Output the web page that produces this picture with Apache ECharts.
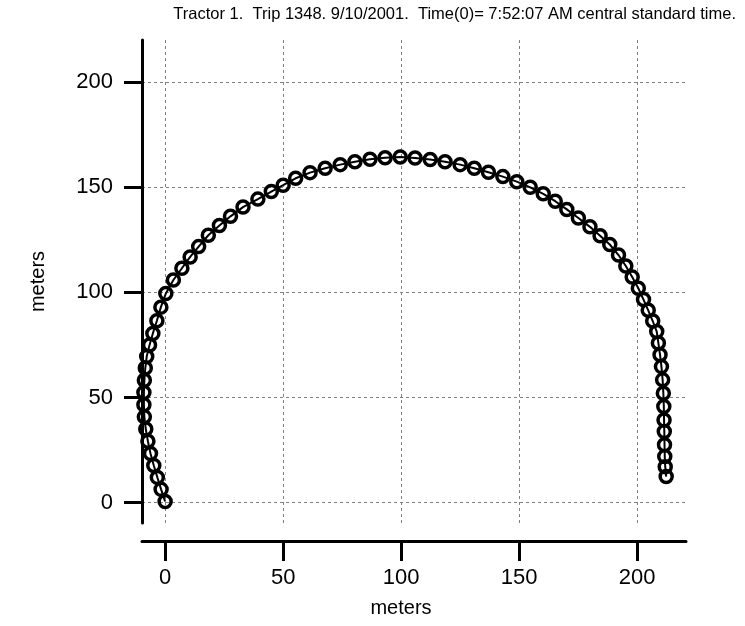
<!DOCTYPE html>
<html>
<head>
<meta charset="utf-8">
<script src="https://cdn.jsdelivr.net/npm/echarts@6/dist/echarts.min.js"></script>
<style>
html,body{margin:0;padding:0;background:#fff;}
#chart{width:745px;height:626px;}
</style>
</head>
<body>
<div id="chart"></div>
<script>
// Tractor path (meters)
var xMeters = [
  0, -1.7, -3.3, -4.8, -6.2, -7.3, -8.2, -8.8, -9, -9, -8.8, -8.4, -7.8, -6.6, -5.2, -3.5, -1.8, 0.3,
  3.5, 7.1, 10.6, 14.2, 18.3, 23.0, 27.7, 33.0, 39.3, 45.0, 50.0,
  55.3, 61.4, 67.8, 74.2, 80.4, 86.8, 93.2, 99.6, 105.9, 112.3, 118.6, 125.0, 131.0, 137.0, 143.1, 149.0,
  154.7, 160.2, 165.3, 170.2, 175.1, 180.0, 184.3, 188.4, 192.1, 195.2, 197.9, 200.5, 202.7, 204.7, 206.6,
  208.3, 209.0, 209.7, 210.3, 210.8, 211.1, 211.3, 211.4, 211.5, 211.6, 211.7, 211.9, 212.3
];
var yMeters = [
  0.5, 6.3, 12, 17.7, 23.4, 29.2, 35, 40.8, 46.6, 52.4, 58.2, 64, 69.5, 75, 80.5, 86.5, 93, 99.5,
  105.9, 111.5, 116.9, 121.8, 127.2, 131.8, 136.2, 140.6, 144.4, 148.0, 151.0,
  154.3, 157.0, 159.1, 160.8, 162.2, 163.4, 164.1, 164.4, 164.0, 163.2, 162.2, 160.8, 159.1, 157.2, 155.1, 152.7,
  150.0, 146.9, 143.4, 139.5, 135.4, 131.2, 127.0, 122.8, 117.8, 112.6, 107.3, 102.0, 96.6, 91.5, 86.4,
  81.4, 75.9, 70.3, 64.7, 58.4, 52.0, 45.7, 39.3, 33.8, 27.5, 21.9, 17.1, 12.4
];
var xTickValues = [0, 50, 100, 150, 200];
var yTickValues = [0, 50, 100, 150, 200];
var titleText = 'Tractor 1.  Trip 1348. 9/10/2001.  Time(0)= 7:52:07 AM central standard time.';
var xName = 'meters';
var yName = 'meters';

var points = xMeters.map(function (x, i) { return [x, yMeters[i]]; });

var FONT = 'Liberation Sans, Arial, sans-serif';
var chart = echarts.init(document.getElementById('chart'), null, {renderer: 'canvas'});
chart.setOption({
  animation: false,
  backgroundColor: '#ffffff',
  title: {
    text: titleText,
    right: 4,
    top: 1,
    textStyle: {fontFamily: FONT, fontSize: 16.5, fontWeight: 'normal', color: '#000'}
  },
  grid: {left: 142, right: 59, top: 40, bottom: 103, containLabel: false},
  xAxis: {
    type: 'value',
    min: -9.8,
    max: 220.7,
    offset: 18,
    name: xName,
    nameLocation: 'middle',
    nameGap: 57,
    nameTextStyle: {fontFamily: FONT, fontSize: 20, color: '#000', padding: [0, 26, 0, 0]},
    axisLine: {show: true, onZero: false, lineStyle: {color: '#000', width: 3}},
    axisTick: {show: true, length: 20, lineStyle: {color: '#000', width: 3}, customValues: xTickValues},
    axisLabel: {fontFamily: FONT, fontSize: 22, color: '#000', margin: 26, customValues: xTickValues},
    splitLine: {show: true, lineStyle: {color: '#808080', width: 1, type: [3, 3]}}
  },
  yAxis: {
    type: 'value',
    min: -9.7,
    max: 220.1,
    name: yName,
    nameLocation: 'middle',
    nameGap: 94,
    nameRotate: 90,
    nameTextStyle: {fontFamily: FONT, fontSize: 20, color: '#000'},
    axisLine: {show: true, onZero: false, lineStyle: {color: '#000', width: 3}},
    axisTick: {show: true, length: 18, lineStyle: {color: '#000', width: 3}, customValues: yTickValues},
    axisLabel: {fontFamily: FONT, fontSize: 22, color: '#000', margin: 29, customValues: yTickValues},
    splitLine: {show: true, lineStyle: {color: '#808080', width: 1, type: [3, 3]}}
  },
  series: [{
    type: 'line',
    data: points,
    clip: false,
    symbol: 'circle',
    symbolSize: 12,
    showAllSymbol: true,
    lineStyle: {color: '#000', width: 2},
    itemStyle: {color: 'rgba(0,0,0,0)', borderColor: '#000', borderWidth: 3.5},
    emphasis: {disabled: true}
  }]
});
</script>
</body>
</html>
